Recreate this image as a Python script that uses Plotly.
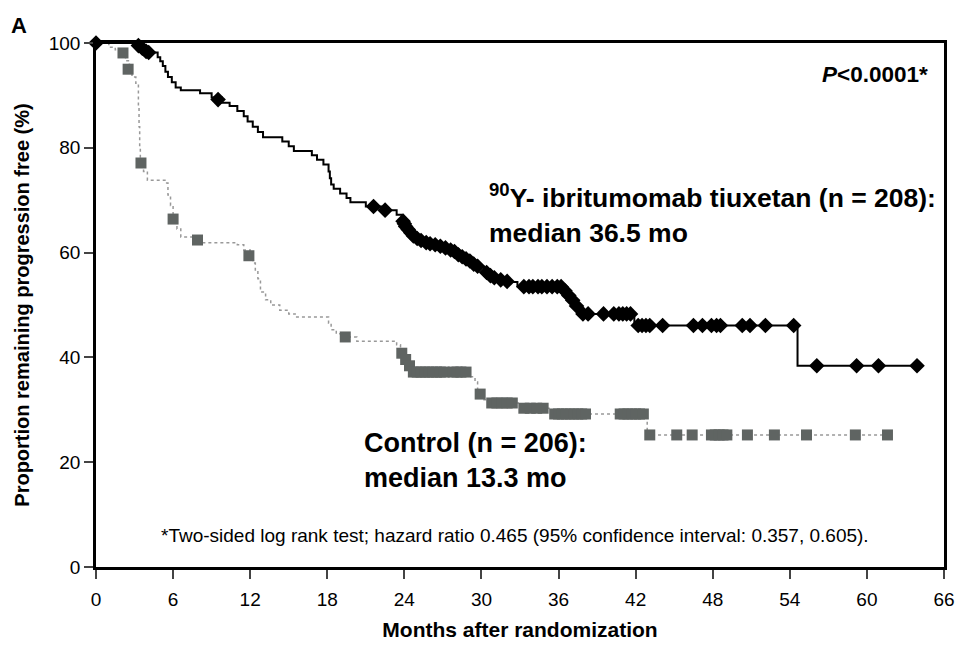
import plotly.graph_objects as go

# Kaplan-Meier step points, 90Y-ibritumomab tiuxetan arm
ibr_time = [0, 3.0, 3.8, 4.8, 5.0, 5.2, 5.4, 5.6, 5.9, 6.2, 6.6, 8.1, 9.0, 9.8, 10.4, 11.0,
            11.5, 11.8, 12.2, 12.6, 13.0, 14.5, 15.0, 15.4, 16.8, 17.2, 17.7, 18.1, 18.2,
            18.3, 18.5, 19.0, 19.5, 19.8, 21.0, 22.2, 23.4, 23.8, 24.0, 24.2, 24.5, 24.9,
            25.4, 26.5, 27.5, 28.2, 28.8, 29.3, 29.8, 30.2, 30.6, 31.2, 32.0, 32.8, 36.4,
            36.7, 37.0, 37.3, 37.5, 37.7, 41.9, 54.6, 63.9]
ibr_surv = [100, 99.5, 98.2, 97.3, 96.5, 95.6, 94.5, 93.5, 92.5, 91.5, 91.0, 90.4, 89.6, 88.6,
            88.0, 87.0, 86.0, 85.0, 84.0, 83.0, 82.0, 81.2, 80.3, 79.4, 78.6, 77.7, 76.8,
            75.5, 74.2, 73.0, 72.2, 71.3, 70.4, 69.6, 68.8, 68.1, 67.2, 66.2, 65.3, 64.5,
            63.6, 62.8, 62.0, 61.4, 60.7, 59.8, 59.0, 58.0, 57.3, 56.5, 55.7, 55.0, 54.4,
            53.6, 52.7, 51.8, 51.0, 50.0, 49.1, 48.3, 46.1, 38.4, 38.4]

# censored patients (diamonds)
ibr_cens_time = [0, 3.3, 3.6, 3.9, 4.1, 9.5, 21.6, 22.5,
                 23.9, 24.0, 24.1, 24.3, 24.5, 24.7, 25.0, 25.3, 25.7, 26.0, 26.4, 26.8,
                 27.2, 27.6, 27.9, 28.2, 28.5, 28.8, 29.1, 29.4, 29.7,
                 30.4, 30.7, 31.0, 31.5, 32.0,
                 33.3, 33.7, 34.0, 34.4, 34.7, 35.1, 35.5, 35.9, 36.2,
                 36.5, 36.8, 37.1, 37.4,
                 37.9, 38.3, 39.5, 40.3, 40.7, 41.0, 41.3, 41.6,
                 42.2, 42.5, 42.8, 43.1, 44.1, 46.5, 47.2, 47.9, 48.3, 48.6, 50.3, 50.9,
                 52.1, 54.3,
                 56.1, 59.2, 60.9, 63.9]
ibr_cens_surv = [100, 99.5, 99.0, 98.4, 98.2, 89.2, 68.8, 68.1,
                 66.0, 65.5, 65.0, 64.4, 63.8, 63.2, 62.7, 62.3, 61.9, 61.7, 61.5, 61.2,
                 60.9, 60.5, 60.2, 59.6, 59.2, 58.8, 58.4, 57.8, 57.4,
                 56.2, 55.6, 55.2, 54.8, 54.5,
                 53.5, 53.5, 53.5, 53.5, 53.5, 53.5, 53.5, 53.5, 53.5,
                 52.7, 51.8, 50.9, 49.8,
                 48.3, 48.3, 48.3, 48.3, 48.3, 48.3, 48.3, 48.3,
                 46.1, 46.1, 46.1, 46.1, 46.1, 46.1, 46.1, 46.1, 46.1, 46.1, 46.1, 46.1,
                 46.1, 46.1,
                 38.4, 38.4, 38.4, 38.4]

# Kaplan-Meier step points, control arm
ctl_time = [0, 1.0, 1.5, 2.0, 2.3, 2.6, 2.8, 3.1, 3.3, 3.35, 3.4, 3.45, 3.7, 4.0, 5.5, 5.6,
            5.8, 6.0, 6.3, 6.6, 8.0, 11.0, 11.5, 12.0, 12.2, 12.4, 12.6, 12.8, 13.2, 13.6,
            14.3, 15.0, 15.5, 18.1, 18.3, 18.7, 19.4, 20.3, 23.4, 23.7, 24.1, 24.4, 24.7,
            29.1, 29.5, 29.7, 30.2, 30.6, 33.1, 35.4, 42.9, 61.6]
ctl_surv = [100, 99.2, 98.7, 98.1, 96.6, 95.0, 93.5, 92.3, 88.0, 84.0, 80.0, 77.3, 75.5, 73.8,
            73.3, 71.0, 69.0, 66.4, 64.5, 63.0, 61.9, 61.5, 60.5, 59.4, 58.0, 56.5, 55.0,
            52.5, 51.0, 50.0, 49.0, 48.3, 47.7, 46.5, 45.3, 44.5, 43.9, 43.1, 42.4, 40.8,
            39.8, 38.2, 37.2, 36.3, 35.3, 33.0, 31.9, 31.3, 30.3, 29.2, 25.2, 25.2]

# censored patients (squares)
ctl_cens_time = [2.1, 2.5, 3.5, 6.0, 7.9, 11.9, 19.4, 23.8, 24.1, 24.4,
                 24.7, 25.0, 25.3, 25.6, 25.9, 26.2, 26.5, 26.8, 27.1,
                 27.8, 28.1, 28.4, 28.8, 29.9,
                 30.8, 31.2, 31.6, 32.0, 32.4,
                 33.3, 33.8, 34.3, 34.8,
                 35.7, 36.0, 36.3, 36.6, 36.9, 37.2, 37.5, 37.8, 38.1,
                 40.8, 41.1, 41.4, 41.7, 42.0, 42.3, 42.6,
                 43.1, 45.2, 46.4, 47.9, 48.2, 48.5, 48.8, 49.1, 50.7, 52.8, 55.3, 59.1,
                 61.6]
ctl_cens_surv = [98.1, 95.0, 77.1, 66.4, 62.4, 59.4, 43.9, 40.8, 39.6, 38.4,
                 37.2, 37.2, 37.2, 37.2, 37.2, 37.2, 37.2, 37.2, 37.2,
                 37.2, 37.2, 37.2, 37.2, 33.0,
                 31.3, 31.3, 31.3, 31.3, 31.3,
                 30.3, 30.3, 30.3, 30.3,
                 29.2, 29.2, 29.2, 29.2, 29.2, 29.2, 29.2, 29.2, 29.2,
                 29.2, 29.2, 29.2, 29.2, 29.2, 29.2, 29.2,
                 25.2, 25.2, 25.2, 25.2, 25.2, 25.2, 25.2, 25.2, 25.2, 25.2, 25.2, 25.2,
                 25.2]

x_ticks = list(range(0, 67, 6))
y_ticks = [0, 20, 40, 60, 80, 100]

FONT = "Liberation Sans, Arial, sans-serif"

fig = go.Figure()

# control arm: dotted grey step line + grey squares
fig.add_trace(go.Scatter(x=ctl_time, y=ctl_surv, mode="lines", line_shape="hv",
                         line=dict(color="#999999", width=1.5, dash="dot"),
                         hoverinfo="skip"))
fig.add_trace(go.Scatter(x=ctl_cens_time, y=ctl_cens_surv, mode="markers",
                         marker=dict(symbol="square", size=11, color="#5f6462"),
                         cliponaxis=False))

# treatment arm: solid black step line + black diamonds
fig.add_trace(go.Scatter(x=ibr_time, y=ibr_surv, mode="lines", line_shape="hv",
                         line=dict(color="black", width=2)))
fig.add_trace(go.Scatter(x=ibr_cens_time, y=ibr_cens_surv, mode="markers",
                         marker=dict(symbol="diamond", size=12, color="black"),
                         cliponaxis=False))

fig.update_layout(
    width=959, height=646,
    margin=dict(l=96, r=15, t=43, b=79),
    plot_bgcolor="white", paper_bgcolor="white",
    showlegend=False,
    font=dict(family=FONT, color="black", size=19),
)

fig.update_xaxes(range=[0, 66], tickvals=x_ticks, ticks="outside", ticklen=9, tickwidth=2,
                 ticklabelstandoff=4, automargin=False,
                 showline=True, linewidth=2.5, linecolor="black", mirror=True,
                 showgrid=False, zeroline=False,
                 title=dict(text="<b>Months after randomization</b>", font=dict(size=21),
                            standoff=14))
fig.update_yaxes(range=[0, 100], tickvals=y_ticks, ticks="outside", ticklen=9, tickwidth=2,
                 automargin=False,
                 showline=True, linewidth=2.5, linecolor="black", mirror=True,
                 showgrid=False, zeroline=False,
                 title=dict(text="<b>Proportion remaining progression free (%)</b>",
                            font=dict(size=20), standoff=14))

fig.add_annotation(xref="paper", yref="paper", x=-0.103, y=1.034, xanchor="left",
                   yanchor="middle", showarrow=False, text="<b>A</b>", font=dict(size=22))
fig.add_annotation(x=64.9, y=93.9, xanchor="right", yanchor="middle", showarrow=False,
                   text="<b><i>P</i>&lt;0.0001*</b>", font=dict(size=22.5))
fig.add_annotation(x=30.4, y=74.5, xanchor="left", yanchor="top", showarrow=False,
                   align="left",
                   text="<b><sup>90</sup>Y- ibritumomab tiuxetan (n = 208):<br>median 36.5 mo</b>",
                   font=dict(size=26.5))
fig.add_annotation(x=20.7, y=27.0, xanchor="left", yanchor="top", showarrow=False,
                   align="left",
                   text="<b>Control (n = 206):<br>median 13.3 mo</b>",
                   font=dict(size=27))
fig.add_annotation(x=32.6, y=6.1, xanchor="center", yanchor="middle", showarrow=False,
                   text="*Two-sided log rank test; hazard ratio 0.465 (95% confidence interval: 0.357, 0.605).",
                   font=dict(size=19))

# drop the browser's default 8px body margin so the figure fills the window
fig.write_html("out.html", config={"displayModeBar": False},
               post_script="document.body.style.margin='0';document.body.style.overflow='hidden';")
